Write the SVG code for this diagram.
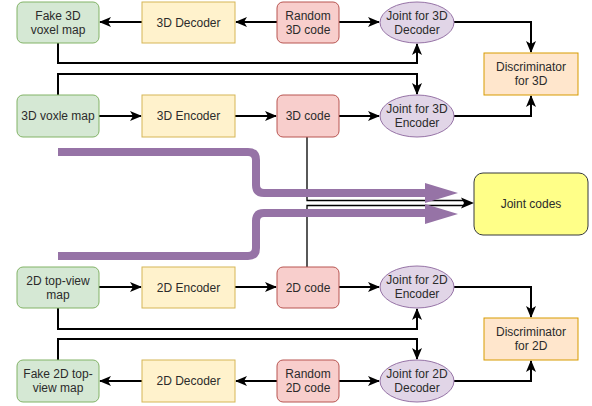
<svg xmlns="http://www.w3.org/2000/svg" width="592" height="406" viewBox="0 0 592 406">
<style>
text{font-family:"Liberation Sans",Arial,sans-serif;font-size:12px;fill:#2b2b2b;text-anchor:middle}
.g{fill:#d5e8d4;stroke:#82b366}
.y{fill:#fff2cc;stroke:#d6b656}
.r{fill:#f8cecc;stroke:#b85450}
.p{fill:#e1d5e7;stroke:#9673a6}
.o{fill:#ffe6cc;stroke:#d79b00}
.e{fill:none;stroke:#000;stroke-width:2}
.t{fill:none;stroke:#000;stroke-width:1.3}
.big{fill:none;stroke:#9673a6;stroke-width:8}
</style>
<defs>
<marker id="a" viewBox="0 0 12 10" refX="11" refY="5" markerWidth="12" markerHeight="10" markerUnits="userSpaceOnUse" orient="auto">
<path d="M0,0 L12,5 L0,10 L3,5 Z" fill="#000"/>
</marker>
</defs>
<g id="connectors">
<path class="e" d="M277,22 H236" marker-end="url(#a)"/>
<path class="e" d="M142,22 H100" marker-end="url(#a)"/>
<path class="e" d="M339,22 H379" marker-end="url(#a)"/>
<path class="e" d="M454,22 H531 V52" marker-end="url(#a)"/>
<path class="e" d="M454,116 H531 V96" marker-end="url(#a)"/>
<path class="e" d="M58,43 V63 H417 V44" marker-end="url(#a)"/>
<path class="e" d="M58,95 V74 H417 V94" marker-end="url(#a)"/>
<path class="e" d="M99,116 H141" marker-end="url(#a)"/>
<path class="e" d="M235,116 H276" marker-end="url(#a)"/>
<path class="e" d="M339,116 H379" marker-end="url(#a)"/>
<path class="e" d="M99,287 H141" marker-end="url(#a)"/>
<path class="e" d="M235,287 H276" marker-end="url(#a)"/>
<path class="e" d="M339,287 H379" marker-end="url(#a)"/>
<path class="e" d="M58,308 V329 H417 V309" marker-end="url(#a)"/>
<path class="e" d="M58,360 V339 H417 V359" marker-end="url(#a)"/>
<path class="e" d="M454,287 H531 V317" marker-end="url(#a)"/>
<path class="e" d="M454,381 H531 V361" marker-end="url(#a)"/>
<path class="e" d="M277,381 H236" marker-end="url(#a)"/>
<path class="e" d="M142,381 H100" marker-end="url(#a)"/>
<path class="e" d="M339,381 H379" marker-end="url(#a)"/>
<path class="t" d="M307,137 V200.5 H463"/>
<path class="t" d="M307,267 V205.5 H463"/>
<path d="M461,197.5 L474,203 L461,208.5 L464,203 Z" fill="#000"/>
<path class="big" d="M58,152 H248 Q256,152 256,160 V185 Q256,193 264,193 H428"/>
<path d="M425,183 L458,193 L425,203 Z" fill="#9673a6"/>
<path class="big" d="M58,256 H248 Q256,256 256,248 V221 Q256,213 264,213 H428"/>
<path d="M425,204 L458,214 L425,224 Z" fill="#9673a6"/>
</g>
<g id="fake3d"><rect class="g" x="17" y="2" width="82" height="41" rx="6"/><text x="58" y="19.5">Fake 3D</text><text x="58" y="33.5">voxel map</text></g>
<g id="dec3d"><rect class="y" x="142" y="2" width="93" height="41"/><text x="188.5" y="26.5">3D Decoder</text></g>
<g id="rand3d"><rect class="r" x="277" y="2" width="62" height="41" rx="6"/><text x="308" y="19.5">Random</text><text x="308" y="33.5">3D code</text></g>
<g id="jdec3d"><ellipse class="p" cx="417" cy="22.5" rx="37" ry="20.5"/><text x="417" y="19.5">Joint for 3D</text><text x="417" y="33.5">Decoder</text></g>
<g id="disc3d"><rect class="o" x="484" y="53" width="94" height="42"/><text x="531" y="71">Discriminator</text><text x="531" y="85">for 3D</text></g>
<g id="voxel3d"><rect class="g" x="17" y="95" width="82" height="42" rx="6"/><text x="58" y="120">3D voxle map</text></g>
<g id="enc3d"><rect class="y" x="142" y="95" width="93" height="42"/><text x="188.5" y="120">3D Encoder</text></g>
<g id="code3d"><rect class="r" x="277" y="95" width="62" height="42" rx="6"/><text x="308" y="120">3D code</text></g>
<g id="jenc3d"><ellipse class="p" cx="417" cy="116" rx="37" ry="21"/><text x="417" y="113">Joint for 3D</text><text x="417" y="127">Encoder</text></g>
<g id="joint"><rect x="474" y="173" width="114" height="62" rx="9" fill="#ffff88" stroke="#36393d"/><text x="531" y="208">Joint codes</text></g>
<g id="top2d"><rect class="g" x="17" y="267" width="82" height="41" rx="6"/><text x="58" y="284.5">2D top-view</text><text x="58" y="298.5">map</text></g>
<g id="enc2d"><rect class="y" x="142" y="267" width="93" height="41"/><text x="188.5" y="291.5">2D Encoder</text></g>
<g id="code2d"><rect class="r" x="277" y="267" width="62" height="41" rx="6"/><text x="308" y="291.5">2D code</text></g>
<g id="jenc2d"><ellipse class="p" cx="417" cy="287" rx="37" ry="21"/><text x="417" y="284">Joint for 2D</text><text x="417" y="298">Encoder</text></g>
<g id="disc2d"><rect class="o" x="484" y="318" width="94" height="42"/><text x="531" y="336">Discriminator</text><text x="531" y="350">for 2D</text></g>
<g id="fake2d"><rect class="g" x="17" y="360" width="82" height="42" rx="6"/><text x="58" y="378">Fake 2D top-</text><text x="58" y="392">view map</text></g>
<g id="dec2d"><rect class="y" x="142" y="360" width="93" height="42"/><text x="188.5" y="385">2D Decoder</text></g>
<g id="rand2d"><rect class="r" x="277" y="360" width="62" height="42" rx="6"/><text x="308" y="378">Random</text><text x="308" y="392">2D code</text></g>
<g id="jdec2d"><ellipse class="p" cx="417" cy="381" rx="37" ry="21"/><text x="417" y="378">Joint for 2D</text><text x="417" y="392">Decoder</text></g>
</svg>
